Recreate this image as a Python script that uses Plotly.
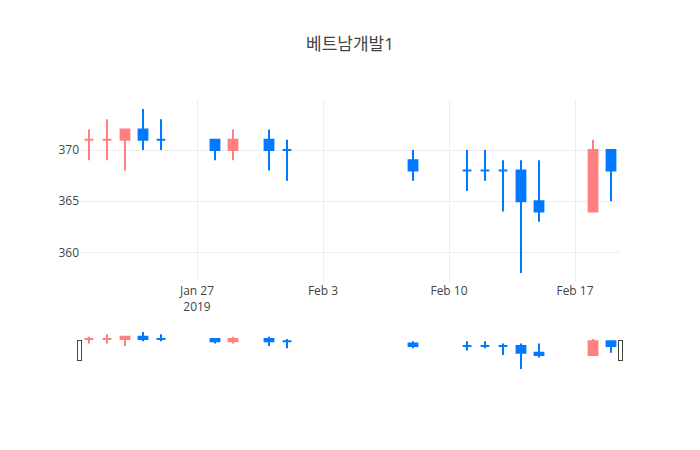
import plotly.graph_objects as go

dates = ["2019-01-21", "2019-01-22", "2019-01-23", "2019-01-24", "2019-01-25",
         "2019-01-28", "2019-01-29", "2019-01-31", "2019-02-01",
         "2019-02-08", "2019-02-11", "2019-02-12", "2019-02-13", "2019-02-14",
         "2019-02-15", "2019-02-18", "2019-02-19"]
open_ = [371, 371, 371, 372, 371, 371, 370, 371, 370, 369, 368, 368, 368, 368, 365, 364, 370]
high = [372, 373, 372, 374, 373, 371, 372, 372, 371, 370, 370, 370, 369, 369, 369, 371, 370]
low = [369, 369, 368, 370, 370, 369, 369, 368, 367, 367, 366, 367, 364, 358, 363, 364, 365]
close = [371, 371, 372, 371, 371, 370, 371, 370, 370, 368, 368, 368, 368, 365, 364, 370, 368]

fig = go.Figure(go.Candlestick(
    x=dates, open=open_, high=high, low=low, close=close,
    increasing=dict(line=dict(color="#ff8080"), fillcolor="#ff8080"),
    decreasing=dict(line=dict(color="#0078ff"), fillcolor="#0078ff"),
))
fig.update_layout(
    template="none",
    title=dict(text="베트남개발1", x=0.5),
    width=700, height=450,
    font=dict(family="Open Sans, Noto Sans CJK KR"),
    showlegend=False,
)
fig.write_html("out.html")
